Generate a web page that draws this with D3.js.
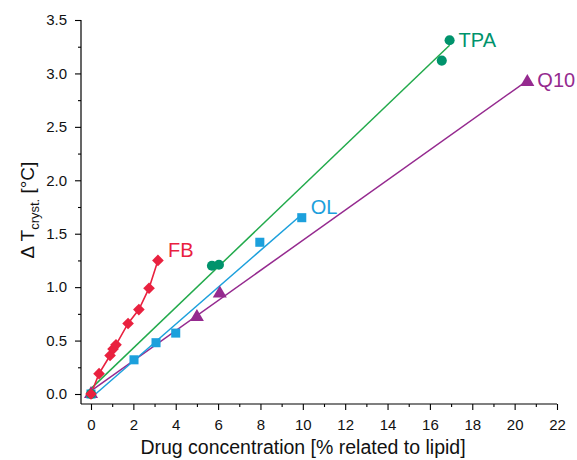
<!DOCTYPE html>
<html><head><meta charset="utf-8">
<script src="https://cdn.jsdelivr.net/npm/d3@7"></script>
<style>body{margin:0;background:#fff}svg{display:block;font-family:"Liberation Sans",Arial,Helvetica,sans-serif}</style>
</head><body>
<svg id="c" width="577" height="460"></svg>
<script>
const fbX = [0, 0.38, 0.9, 1.04, 1.18, 1.75, 2.26, 2.74, 3.16];
const fbY = [0, 0.19, 0.36, 0.42, 0.46, 0.66, 0.79, 0.99, 1.25];
const tpaX = [0, 5.71, 6.04, 16.56, 16.93];
const tpaY = [0, 1.20, 1.21, 3.12, 3.31];
const olX = [0, 2.03, 3.07, 4.0, 7.97, 9.95];
const olY = [0, 0.32, 0.48, 0.57, 1.42, 1.65];
const q10X = [0, 5.0, 6.08, 20.6];
const q10Y = [0, 0.72, 0.94, 2.92];
const xTicks = [0,2,4,6,8,10,12,14,16,18,20,22];
const yTicks = [0,0.5,1.0,1.5,2.0,2.5,3.0,3.5];
const xMinor = d3.range(1,22,2);
const yMinor = d3.range(0.25,3.5,0.5);

const svg = d3.select("#c");
const x = d3.scaleLinear().domain([0,22]).range([91,557]);
const y = d3.scaleLinear().domain([0,3.5]).range([394,20]);
const left = 81, bottom = 404;

// spines
svg.append("line").attr("x1",left).attr("x2",left).attr("y1",y(3.5)).attr("y2",bottom).attr("stroke","#000").attr("stroke-width",1.2);
svg.append("line").attr("x1",left).attr("x2",x(22)).attr("y1",bottom).attr("y2",bottom).attr("stroke","#000").attr("stroke-width",1.2);

const ax = svg.append("g").attr("transform",`translate(0,${bottom})`)
  .call(d3.axisBottom(x).tickValues(xTicks).tickSize(6).tickSizeOuter(0).tickPadding(9).tickFormat(d3.format("d")));
ax.select(".domain").remove();
const axm = svg.append("g").attr("transform",`translate(0,${bottom})`)
  .call(d3.axisBottom(x).tickValues(xMinor).tickSize(3).tickFormat(""));
axm.select(".domain").remove();
const ay = svg.append("g").attr("transform",`translate(${left},0)`)
  .call(d3.axisLeft(y).tickValues(yTicks).tickSize(6).tickSizeOuter(0).tickPadding(8).tickFormat(d3.format(".1f")));
ay.select(".domain").remove();
const aym = svg.append("g").attr("transform",`translate(${left},0)`)
  .call(d3.axisLeft(y).tickValues(yMinor).tickSize(3).tickFormat(""));
aym.select(".domain").remove();
svg.selectAll(".tick text").attr("font-size",15).attr("fill","#111").attr("font-family","Liberation Sans, Arial, sans-serif");
svg.selectAll(".tick line").attr("stroke-width",1.1);

// titles
svg.append("text").attr("x",(left+x(22))/2 - 16).attr("y",454).attr("text-anchor","middle").attr("font-size",19.5).attr("fill","#111")
  .text("Drug concentration [% related to lipid]");
const yt = svg.append("text").attr("transform","translate(34,210) rotate(-90)").attr("text-anchor","middle").attr("font-size",19).attr("fill","#111");
yt.append("tspan").text("\u0394 T");
yt.append("tspan").attr("font-size",13).attr("dy",5).text("cryst.");
yt.append("tspan").attr("dy",-5).text(" [\u00B0C]");

function fit(xs, ys){
  const mx=d3.mean(xs), my=d3.mean(ys);
  let sxy=0,sxx=0; xs.forEach((v,i)=>{sxy+=(v-mx)*(ys[i]-my); sxx+=(v-mx)*(v-mx);});
  const b=sxy/sxx; return [my-b*mx,b];
}
function regLine(xs, ys, color){
  const [a,b]=fit(xs,ys); const x0=d3.min(xs), x1=d3.max(xs);
  svg.append("line").attr("x1",x(x0)).attr("y1",y(a+b*x0)).attr("x2",x(x1)).attr("y2",y(a+b*x1))
    .attr("stroke",color).attr("stroke-width",1.5);
}
const cRed="#e9213f", cGreenL="#22aa4c", cGreenM="#00936c", cBlue="#1ca0dc", cPurp="#952a8f";

regLine(tpaX,tpaY,cGreenL);
regLine(q10X,q10Y,cPurp);
regLine(olX,olY,cBlue);
svg.append("path").datum(fbX.map((v,i)=>[v,fbY[i]]))
  .attr("d",d3.line().x(d=>x(d[0])).y(d=>y(d[1]))).attr("fill","none").attr("stroke",cRed).attr("stroke-width",1.6);

function markers(xs, ys, type, size, color){
  svg.append("g").selectAll("path").data(xs.map((v,i)=>[v,ys[i]])).join("path")
    .attr("transform",d=>`translate(${x(d[0])},${y(d[1])})`)
    .attr("d",d3.symbol().type(type).size(size)).attr("fill",color);
}
markers(q10X,q10Y,d3.symbolTriangle,85,cPurp);
markers(olX,olY,d3.symbolSquare,82,cBlue);
markers(tpaX,tpaY,d3.symbolCircle,80,cGreenM);
svg.append("g").selectAll("path").data(fbX.map((v,i)=>[v,fbY[i]])).join("path")
  .attr("transform",d=>`translate(${x(d[0])},${y(d[1])}) rotate(45)`)
  .attr("d",d3.symbol().type(d3.symbolSquare).size(68)).attr("fill",cRed);

// series labels
const lab=(xs,ys,t,c,dx,dy)=>svg.append("text").attr("x",x(xs[xs.length-1])+dx).attr("y",y(ys[ys.length-1])+dy)
  .attr("font-size",20).attr("fill",c).text(t);
lab(tpaX,tpaY,"TPA",cGreenM,9,7);
lab(q10X,q10Y,"Q10",cPurp,10,5);
lab(olX,olY,"OL",cBlue,9,-4);
lab(fbX,fbY,"FB",cRed,10,-3);
</script>
</body></html>
